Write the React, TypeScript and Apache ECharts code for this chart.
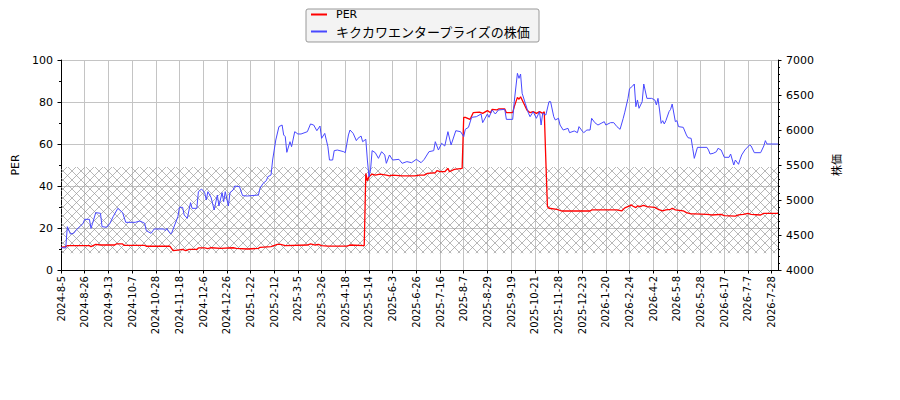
import { useEffect, useRef } from "react";
import * as echarts from "echarts";

// x positions are trading-day indices; a date label every 15 days
const dateLabels = [
  "2024-8-5", "2024-8-26", "2024-9-13", "2024-10-7", "2024-10-28", "2024-11-18",
  "2024-12-6", "2024-12-26", "2025-1-22", "2025-2-12", "2025-3-5", "2025-3-26",
  "2025-4-18", "2025-5-14", "2025-6-3", "2025-6-26", "2025-7-16", "2025-8-7",
  "2025-8-29", "2025-9-19", "2025-10-21", "2025-11-28", "2025-12-23", "2026-1-20",
  "2026-2-24", "2026-4-2", "2026-5-8", "2026-5-28", "2026-6-17", "2026-7-7", "2026-7-28",
];
const lastIndex = 454;

const perPoints: [number, number][] = [
  [0, 10.8], [3, 11.1], [4, 11.6], [18, 11.6], [19, 11.1], [22, 12.2], [25, 11.9],
  [34, 11.9], [35, 12.4], [39, 12.4], [40, 11.7], [53, 11.7], [54, 11.3], [69, 11.3],
  [71, 9.2], [74, 9.5], [77, 9.8], [79, 9.2], [81, 9.8], [86, 9.8], [87, 10.5],
  [91, 10.5], [93, 10.2], [95, 10.6], [101, 10.3], [109, 10.6], [111, 10.3], [118, 10.0],
  [125, 10.3], [126, 10.8], [133, 11.1], [137, 12.2], [139, 12.2], [142, 11.6],
  [156, 11.9], [158, 12.4], [161, 11.9], [163, 12.2], [165, 11.6], [169, 11.4],
  [181, 11.4], [183, 11.9], [192, 11.6], [193, 46], [194, 42.5], [195, 44.4],
  [197, 45.7], [199, 45.2], [202, 45.7], [206, 45.2], [208, 44.8], [210, 45.2],
  [216, 44.8], [224, 44.8], [227, 45.2], [230, 45.2], [232, 46], [237, 46.3],
  [238, 47.3], [240, 46.8], [243, 46.8], [245, 48.4], [246, 46.8], [249, 47.9],
  [254, 48.4], [255, 72.7], [256, 72.7], [259, 71.7], [261, 74.9], [265, 75.2],
  [267, 74.6], [270, 75.9], [272, 74.9], [273, 76.5], [276, 76.2], [277, 76.7],
  [281, 76.7], [282, 74.9], [286, 74.9], [287, 77.8], [289, 82.2], [290, 81.3],
  [291, 82.5], [293, 79.4], [295, 76.2], [297, 74.9], [299, 75.4], [301, 74.6],
  [303, 75.4], [305, 74.6], [306, 75.4], [307, 52], [308, 30.2], [309, 29.4],
  [314, 28.9], [317, 28.1], [335, 28.1], [336, 28.6], [352, 28.6], [355, 28.1],
  [357, 29.6], [360, 30.5], [361, 31], [362, 30.5], [364, 29.7], [365, 30.5],
  [367, 30.2], [368, 30.6], [369, 30.8], [371, 30.2], [376, 29.8], [378, 28.9],
  [381, 28.2], [383, 28.6], [386, 28.9], [387, 29.4], [389, 28.6], [394, 28.2],
  [396, 27.3], [399, 26.7], [401, 26.7], [409, 26.5], [412, 26.2], [418, 26.5],
  [420, 25.9], [427, 25.7], [429, 26.2], [432, 26.5], [435, 27], [437, 26.5],
  [443, 26.2], [445, 27], [454, 27],
];

const pricePoints: [number, number][] = [
  [0, 4320], [3, 4314], [4, 4619], [6, 4514], [8, 4524], [10, 4581], [12, 4619],
  [14, 4667], [15, 4724], [18, 4724], [19, 4595], [20, 4667], [22, 4819], [25, 4810],
  [26, 4619], [29, 4610], [31, 4667], [33, 4762], [36, 4881], [39, 4819], [41, 4681],
  [47, 4681], [50, 4700], [53, 4667], [54, 4562], [57, 4524], [59, 4586], [65, 4586],
  [66, 4562], [67, 4595], [69, 4524], [70, 4524], [72, 4643], [74, 4762], [75, 4895],
  [77, 4895], [78, 4786], [80, 4738], [82, 4962], [83, 4881], [86, 4881], [87, 5119],
  [89, 5157], [91, 5105], [92, 5000], [93, 5119], [95, 5038], [97, 4857], [99, 5071],
  [100, 4914], [102, 5105], [103, 4976], [104, 5119], [106, 4914], [107, 5105],
  [109, 5143], [110, 5200], [113, 5190], [115, 5062], [118, 5057], [125, 5071],
  [126, 5167], [128, 5238], [130, 5276], [131, 5333], [133, 5357], [134, 5571],
  [136, 5857], [138, 6048], [140, 6071], [141, 5929], [142, 5905], [143, 5681],
  [145, 5833], [146, 5762], [148, 5976], [150, 5943], [152, 5943], [156, 5976],
  [158, 6086], [160, 6071], [162, 5990], [164, 6057], [165, 5881], [167, 5952],
  [169, 5762], [170, 5571], [172, 5571], [173, 5705], [175, 5714], [179, 5690],
  [180, 5676], [182, 5929], [183, 6000], [185, 5952], [187, 5848], [188, 5881],
  [190, 5914], [191, 5833], [193, 5867], [194, 5571], [195, 5333], [196, 5429],
  [197, 5705], [199, 5676], [201, 5595], [203, 5690], [205, 5643], [206, 5524],
  [208, 5643], [210, 5571], [214, 5581], [216, 5524], [219, 5548], [222, 5533],
  [225, 5581], [228, 5533], [230, 5581], [233, 5690], [236, 5705], [237, 5833],
  [239, 5714], [241, 5810], [243, 5771], [245, 5976], [247, 5786], [250, 5990],
  [253, 5976], [255, 5905], [256, 6010], [258, 6038], [260, 6181], [263, 6190],
  [266, 6229], [267, 6105], [270, 6229], [271, 6181], [273, 6286], [275, 6229],
  [277, 6286], [281, 6295], [282, 6152], [286, 6152], [287, 6405], [289, 6810],
  [290, 6738], [291, 6800], [292, 6524], [294, 6381], [296, 6238], [297, 6190],
  [299, 6262], [301, 6167], [303, 6262], [304, 6071], [305, 6238], [307, 6214],
  [309, 6405], [310, 6405], [312, 6190], [313, 6143], [315, 6167], [316, 6071],
  [318, 6000], [321, 6024], [322, 5962], [325, 5986], [327, 5962], [328, 6048],
  [330, 5986], [331, 5962], [333, 6000], [335, 6000], [336, 6167], [338, 6105],
  [340, 6071], [342, 6095], [344, 6119], [345, 6071], [348, 6105], [350, 6105],
  [352, 6048], [354, 6010], [356, 6167], [357, 6255], [359, 6450], [360, 6590],
  [362, 6629], [363, 6657], [364, 6333], [365, 6429], [366, 6310], [368, 6405],
  [369, 6657], [371, 6452], [374, 6452], [376, 6429], [377, 6357], [378, 6452],
  [379, 6286], [380, 6095], [381, 6133], [382, 6086], [383, 6133], [385, 6262],
  [386, 6295], [387, 6371], [389, 6119], [390, 6133], [391, 6048], [394, 6038],
  [396, 5929], [397, 5890], [399, 5881], [400, 5738], [401, 5595], [403, 5752],
  [409, 5752], [410, 5714], [411, 5657], [413, 5667], [415, 5690], [416, 5738],
  [418, 5714], [420, 5610], [423, 5610], [424, 5657], [426, 5500], [427, 5571],
  [429, 5510], [430, 5581], [431, 5643], [433, 5714], [436, 5786], [437, 5771],
  [439, 5676], [443, 5676], [445, 5771], [446, 5848], [447, 5800], [454, 5800],
];

// PER band shown hatched
const perBand = [8, 49];

const FONT = "DejaVu Sans, Noto Sans CJK JP, sans-serif";

function makeHatch() {
  const c = document.createElement("canvas");
  c.width = 9;
  c.height = 9;
  const ctx = c.getContext("2d")!;
  ctx.strokeStyle = "#9a9a9a";
  ctx.lineWidth = 0.7;
  ctx.beginPath();
  ctx.moveTo(-1, -1);
  ctx.lineTo(10, 10);
  ctx.moveTo(10, -1);
  ctx.lineTo(-1, 10);
  ctx.stroke();
  return c;
}

export default function App() {
  const chartRef = useRef<HTMLDivElement>(null);

  useEffect(() => {
    document.body.style.margin = "0";
    if (!chartRef.current) return;
    const chart = echarts.init(chartRef.current, undefined, { renderer: "svg" });

    const axisLine = { show: true, lineStyle: { color: "#000", width: 1 } };
    const grid = { lineStyle: { color: "#c4c4c4", width: 1 } };

    const option: echarts.EChartsOption = {
      animation: false,
      textStyle: { fontFamily: FONT },
      grid: { left: 61, right: 122, top: 60, bottom: 130 },
      legend: {
        orient: "vertical",
        left: 306,
        top: 9,
        padding: [0, 8, 4, 5],
        itemGap: 5,
        itemWidth: 16,
        itemHeight: 2,
        icon: "rect",
        backgroundColor: "#f3f3f3",
        borderColor: "#999",
        borderWidth: 1,
        borderRadius: 2,
        formatter: (name: string) => (name === "PER" ? `{a|${name}}` : `{j|${name}}`),
        textStyle: {
          fontFamily: FONT,
          color: "#000",
          rich: {
            a: { fontSize: 11, lineHeight: 15, padding: [0, 0, 0, 4], fontFamily: FONT },
            j: { fontSize: 13, lineHeight: 15, padding: [0, 0, 0, 4], fontFamily: "Noto Sans CJK JP" },
          },
        },
        data: ["PER", "キクカワエンタープライズの株価"],
      },
      xAxis: {
        type: "value",
        min: 0,
        max: lastIndex,
        interval: 15,
        axisLine,
        axisTick: { show: true, length: 3.5, lineStyle: { color: "#000" } },
        splitLine: { show: true, ...grid },
        axisLabel: {
          rotate: 90,
          margin: 6,
          fontSize: 10,
          color: "#000",
          fontFamily: FONT,
          showMaxLabel: false,
          formatter: (v: number) => dateLabels[v / 15] ?? "",
        },
      },
      yAxis: [
        {
          type: "value",
          min: 0,
          max: 100,
          interval: 20,
          name: "PER",
          nameLocation: "middle",
          nameGap: 37,
          nameRotate: 90,
          nameTextStyle: { fontSize: 11, color: "#000", fontFamily: FONT },
          axisLine,
          axisTick: { show: true, length: 3.5, lineStyle: { color: "#000" } },
          minorTick: { show: true, splitNumber: 2, length: 2, lineStyle: { color: "#000" } },
          splitLine: { show: true, ...grid },
          axisLabel: { fontSize: 11, color: "#000", margin: 8, fontFamily: FONT },
        },
        {
          type: "value",
          min: 4000,
          max: 7000,
          interval: 500,
          position: "right",
          name: "株価",
          nameLocation: "middle",
          nameGap: 52,
          nameRotate: 90,
          nameTextStyle: { fontSize: 11, color: "#000", fontFamily: "Noto Sans CJK JP" },
          axisLine,
          axisTick: { show: true, length: 3.5, lineStyle: { color: "#000" } },
          minorTick: { show: true, splitNumber: 5, length: 2, lineStyle: { color: "#000" } },
          splitLine: { show: false },
          axisLabel: {
            fontSize: 11,
            color: "#000",
            margin: 8,
            fontFamily: FONT,
            formatter: (v: number) => String(v),
          },
        },
      ],
      series: [
        {
          name: "PER",
          type: "line",
          yAxisIndex: 0,
          data: perPoints,
          showSymbol: false,
          symbol: "none",
          z: 3,
          lineStyle: { color: "#ff0000", width: 1.3 },
          itemStyle: { color: "#ff0000" },
          markArea: {
            silent: true,
            itemStyle: {
              color: { image: makeHatch(), repeat: "repeat", imageWidth: 9, imageHeight: 9 } as any,
            },
            data: [[{ yAxis: perBand[0] }, { yAxis: perBand[1] }]],
          },
        },
        {
          name: "キクカワエンタープライズの株価",
          type: "line",
          yAxisIndex: 1,
          data: pricePoints,
          showSymbol: false,
          symbol: "none",
          z: 4,
          lineStyle: { color: "#4848ff", width: 1 },
          itemStyle: { color: "#4848ff" },
        },
      ],
    };

    chart.setOption(option);
    return () => chart.dispose();
  }, []);

  return <div ref={chartRef} style={{ width: 900, height: 400 }} />;
}
